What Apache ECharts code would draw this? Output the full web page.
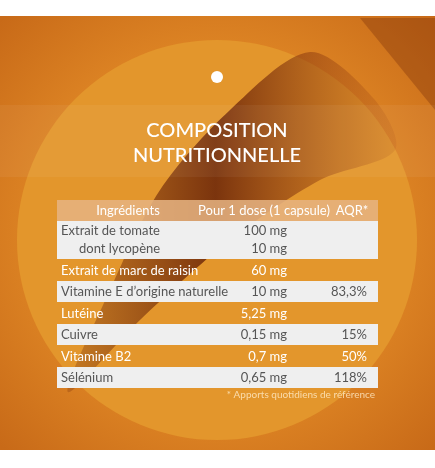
<!DOCTYPE html>
<html><head><meta charset="utf-8">
<script src="https://cdn.jsdelivr.net/npm/echarts@6/dist/echarts.min.js"></script>
<style>html,body{margin:0;padding:0;background:#fff}#c{width:435px;height:468px}</style>
</head><body><div id="c"></div>
<script>
const titleLines = ['COMPOSITION', 'NUTRITIONNELLE'];
const headers = ['Ingrédients', 'Pour 1 dose (1 capsule)', 'AQR*'];
const ingredients = [['Extrait de tomate', '    dont lycopène'], ['Extrait de marc de raisin'], ['Vitamine E d\u2019origine naturelle'], ['Lutéine'], ['Cuivre'], ['Vitamine B2'], ['Sélénium']];
const doses = [['100 mg', '10 mg'], ['60 mg'], ['10 mg'], ['5,25 mg'], ['0,15 mg'], ['0,7 mg'], ['0,65 mg']];
const aqr = ['', '', '83,3%', '', '15%', '50%', '118%'];
const footnote = '* Apports quotidiens de référence';

const chart = echarts.init(document.getElementById('c'));
const F = '"Liberation Sans Narrow", Lato, sans-serif';
const g = [];
g.push({type:'rect', shape:{x:0,y:16,width:435,height:434}, style:{fill:new echarts.graphic.RadialGradient(0.5,0.5,0.7,[{offset:0,color:'#e8952c'},{offset:0.6,color:'#dd8424'},{offset:1,color:'#c86a18'}])}});
g.push({type:'circle', shape:{cx:217,cy:240,r:200}, style:{fill:'#e3962c'}});
g.push({type:'polygon', shape:{smooth:0.3, points:[[310,52],[230,110],[160,190],[110,290],[68,392],[140,320],[230,240],[320,180],[395,150],[375,100]]},
  style:{fill:new echarts.graphic.LinearGradient(0,0,1,0,[{offset:0,color:'rgba(110,40,10,0.25)'},{offset:0.45,color:'rgba(105,35,8,0.85)'},{offset:1,color:'rgba(160,70,20,0.15)'}])}});
g.push({type:'polygon', shape:{points:[[360,18],[435,18],[435,110]]}, style:{fill:'rgba(120,45,10,0.35)'}});
g.push({type:'rect', shape:{x:0,y:105,width:435,height:72}, style:{fill:'rgba(255,255,255,0.05)'}});
g.push({type:'circle', shape:{cx:217,cy:77,r:6}, style:{fill:'#fff'}});
titleLines.forEach((t,i)=>g.push({type:'text', x:217, y:131+i*25, style:{text:t, fill:'#fff', font:'500 20px Lato, sans-serif', align:'center', verticalAlign:'middle'}}));
const X0=57, X1=378, colDose=287, colAqr=367;
g.push({type:'rect', shape:{x:X0,y:200,width:X1-X0,height:21}, style:{fill:'rgba(230,180,130,0.85)'}});
headers.forEach((h,i)=>g.push({type:'text', x:[128,264,352][i], y:211, style:{text:h, fill:'#fff', font:'13px '+F, align:'center', verticalAlign:'middle'}}));
let y=221;
ingredients.forEach((lines,i)=>{
  const h = lines.length===2 ? 39 : (i%2===1 ? 21 : 22);
  const white = i%2===0;
  if (white) g.push({type:'rect', shape:{x:X0,y:y,width:X1-X0,height:h-1}, style:{fill:'#efefef'}});
  const col = white ? '#555' : '#fff';
  lines.forEach((t,k)=>{
    const ty = y + (lines.length===2 ? 10+k*18 : h/2);
    g.push({type:'text', x: t.startsWith(' ')?79:61, y:ty, style:{text:t.trim(), fill:col, font:'13px '+F, verticalAlign:'middle'}});
    g.push({type:'text', x:colDose, y:ty, style:{text:doses[i][k], fill:col, font:'13px '+F, align:'right', verticalAlign:'middle'}});
  });
  if (aqr[i]) g.push({type:'text', x:colAqr, y:y+h/2, style:{text:aqr[i], fill:col, font:'13px '+F, align:'right', verticalAlign:'middle'}});
  y+=h;
});
g.push({type:'text', x:375, y:395, style:{text:footnote, fill:'rgba(255,235,200,0.8)', font:'10px '+F, align:'right', verticalAlign:'middle'}});
chart.setOption({animation:false, graphic:g});
</script></body></html>
